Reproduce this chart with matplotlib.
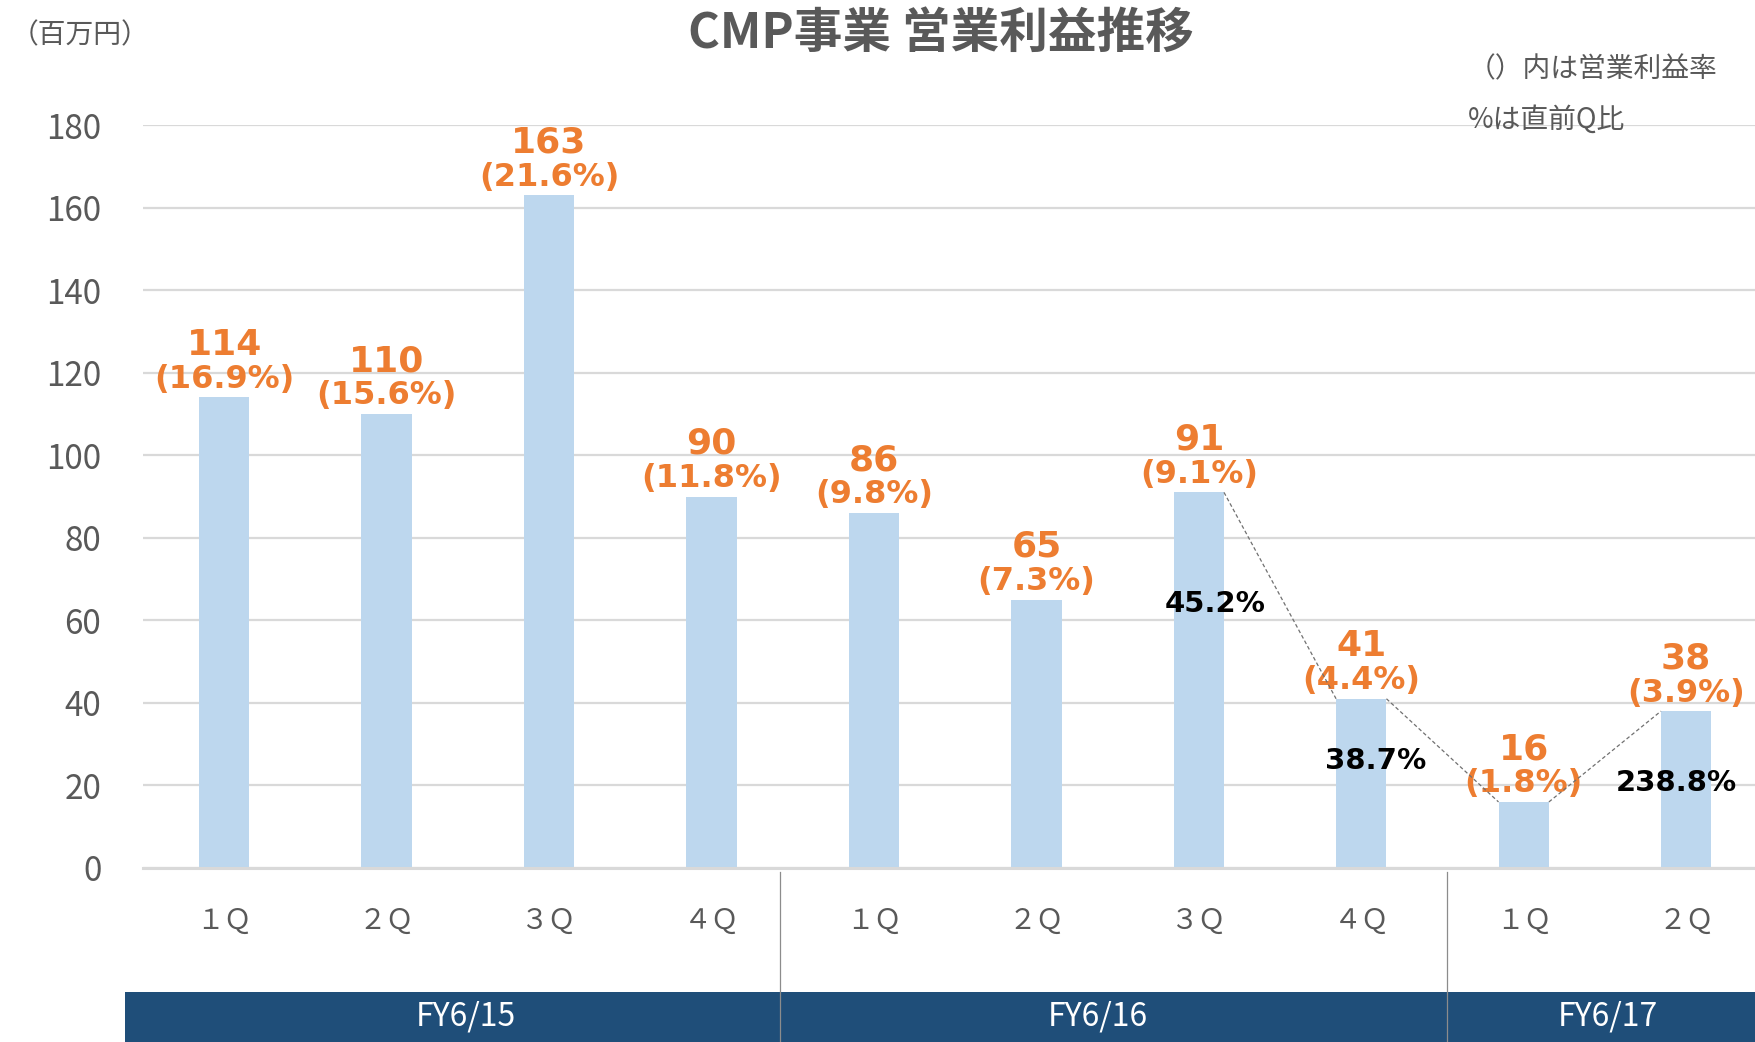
import matplotlib
matplotlib.use("Agg")
import matplotlib.pyplot as plt
from matplotlib.patches import Rectangle

plt.rcParams['font.family'] = ['Noto Sans CJK JP', 'DejaVu Sans']

quarters = ["１Ｑ", "２Ｑ", "３Ｑ", "４Ｑ", "１Ｑ", "２Ｑ", "３Ｑ", "４Ｑ", "１Ｑ", "２Ｑ"]
profit = [114, 110, 163, 90, 86, 65, 91, 41, 16, 38]
margin = ["16.9%", "15.6%", "21.6%", "11.8%", "9.8%", "7.3%", "9.1%", "4.4%", "1.8%", "3.9%"]
years = ["FY6/15", "FY6/16", "FY6/17"]
qoq = ["45.2%", "38.7%", "238.8%"]

gray = "#595959"
orange = "#ED7D31"
bw = 0.31

fig = plt.figure(figsize=(17.56, 10.42), dpi=100)
ax = fig.add_axes([0.0814, 0.167, 0.9186, 0.713])

x = list(range(len(profit)))
ax.bar(x, profit, width=bw, color="#BDD7EE", zorder=2)
ax.set_xlim(-0.5, 9.43)
ax.set_ylim(0, 180)
ax.set_yticks(range(0, 181, 20))
ax.yaxis.grid(True, color="#D9D9D9", linewidth=1.6, zorder=0)
ax.tick_params(axis="y", length=0, pad=30, labelsize=24, labelcolor=gray)
ax.set_xticks([])
for s in ["top", "right", "left"]:
    ax.spines[s].set_visible(False)
ax.spines["bottom"].set_color("#D9D9D9")
ax.spines["bottom"].set_linewidth(2.2)

# value labels
for i, v in enumerate(profit):
    ax.annotate(str(v), (i, v), xytext=(0, 38), textcoords="offset points",
                ha="center", va="center", fontsize=26, fontweight="bold",
                color=orange, family="DejaVu Sans")
    ax.annotate("(" + margin[i] + ")", (i, v), xytext=(0, 13), textcoords="offset points",
                ha="center", va="center", fontsize=23, fontweight="bold",
                color=orange, family="DejaVu Sans")

# dashed connectors, quarter-on-quarter
for i in range(6, 9):
    ax.plot([i + bw / 2, i + 1 - bw / 2], [profit[i], profit[i + 1]],
            color="#707070", linestyle=(0, (3, 2)), linewidth=0.9, zorder=3)
for (px, py), t in zip([(6.1, 64), (7.09, 26), (8.94, 20.5)], qoq):
    ax.text(px, py, t, ha="center", va="center", fontsize=21, fontweight="bold",
            color="black", family="DejaVu Sans", zorder=4)

# category axis
tr = ax.get_xaxis_transform()
for i, q in enumerate(quarters):
    ax.text(i, -0.071, q, transform=tr, ha="center", va="center",
            fontsize=20, color=gray, clip_on=False)

edges = [-0.61, 3.42, 7.53, 9.43]
year_x = [1.49, 5.38, 8.52]
for k, yname in enumerate(years):
    ax.add_patch(Rectangle((edges[k], -0.234), edges[k + 1] - edges[k], 0.067,
                           transform=tr, facecolor="#1F4E79", edgecolor="none",
                           clip_on=False))
    ax.text(year_x[k], -0.2, yname, transform=tr,
            ha="center", va="center", fontsize=23, color="white", clip_on=False)
for e in edges[1:3]:
    ax.plot([e, e], [-0.006, -0.234], transform=tr, color="#8C8C8C",
            linewidth=0.9, clip_on=False, zorder=5)

fig.text(0.536, 0.968, "CMP事業 営業利益推移", ha="center", va="center",
         fontsize=35, fontweight="bold", color=gray)
fig.text(0.006, 0.966, "（百万円）", ha="left", va="center", fontsize=20, color=gray)
fig.text(0.836, 0.933, "（）内は営業利益率", ha="left", va="center", fontsize=20, color=gray)
fig.text(0.836, 0.885, "%は直前Q比", ha="left", va="center", fontsize=20, color=gray)

fig.savefig("out.png", dpi=100)
